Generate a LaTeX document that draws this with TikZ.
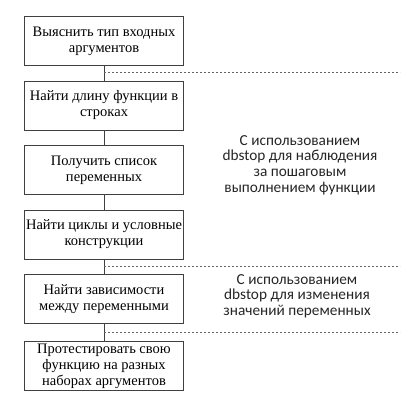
\documentclass[tikz,border=0pt]{standalone}
\usepackage{fontspec}
\setmainfont{Liberation Serif}
\newfontfamily\notefont{Carlito}
\usepackage{tikz}
\usetikzlibrary{calc,positioning}
\tikzset{
    semithick,
    stepbox/.style={rectangle, draw=black!75, minimum width=159pt, minimum height=49pt,
        align=center, font=\fontsize{14.5}{16}\selectfont, inner sep=1pt},
    sep/.style={draw=black!60, dash pattern=on 2pt off 2pt, thin},
    note/.style={align=center, font=\notefont\fontsize{15.3}{15.6}\selectfont, text=black!85}
}

\begin{document}
\begin{tikzpicture}[x=1pt,y=-1pt,node distance=15pt]
  \useasboundingbox (0,0) rectangle (419,407);
  % Draw the boxes
  \node[stepbox] (args) at (104,41) {Выяснить тип входных\\аргументов};
  \node[stepbox] (len) [below=of args] {Найти длину функции в\\строках};
  \node[stepbox] (vars) [below=of len] {Получить список\\переменных};
  \node[stepbox] (loops) [below=of vars] {Найти циклы и условные\\конструкции};
  \node[stepbox] (deps) [below=of loops] {Найти зависимости\\между переменными};
  \node[stepbox] (test) [below=18pt of deps] {Протестировать свою\\функцию на разных\\наборах аргументов};

  % Draw the links
  \draw[black!75] (args) -- (len);
  \draw[black!75] (len) -- (vars);
  \draw[black!75] (vars) -- (loops);
  \draw[black!75] (loops) -- (deps);
  \draw[black!75] (deps) -- (test);

  % Dotted separators
  \coordinate (s1) at ($(args.south)!0.45!(len.north)$);
  \coordinate (s2) at ($(loops.south)!0.5!(deps.north)$);
  \coordinate (s3) at ($(deps.south)!0.5!(test.north)$);
  \coordinate (e1) at (400,0 |- s1);
  \coordinate (e2) at (400,0 |- s2);
  \coordinate (e3) at (400,0 |- s3);
  \draw[sep] (s1) -- (e1);
  \draw[sep] (s2) -- (e2);
  \draw[sep] (s3) -- (e3);

  % Notes
  \node[note] (watch) at (300,165) {С использованием\\dbstop для наблюдения\\за пошаговым\\выполнением функции};
  \node[note] (change) at (297,296) {С использованием\\dbstop для изменения\\значений переменных};
\end{tikzpicture}
\end{document}
